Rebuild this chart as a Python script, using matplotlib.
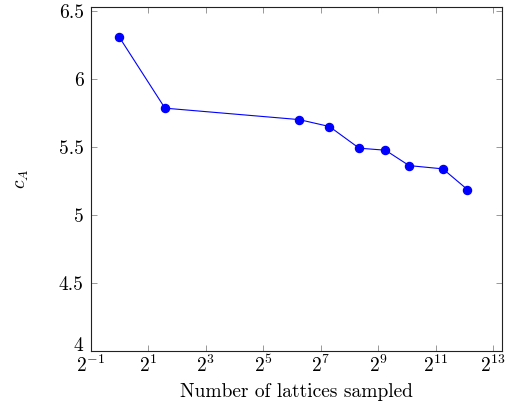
import math
import matplotlib
matplotlib.use("Agg")
import matplotlib.pyplot as plt
import matplotlib.transforms as mtransforms
from matplotlib.ticker import FixedLocator, FuncFormatter, NullLocator

plt.rcParams['font.family'] = 'serif'
plt.rcParams['font.serif'] = ['cmr10']
plt.rcParams['mathtext.fontset'] = 'cm'
plt.rcParams['axes.formatter.use_mathtext'] = True
plt.rcParams['axes.unicode_minus'] = False

lattices = [1, 3, 76, 158, 323, 609, 1078, 2430, 4390]
c_a = [6.305, 5.784, 5.700, 5.649, 5.490, 5.475, 5.362, 5.338, 5.186]
x_exponents = [-1, 1, 3, 5, 7, 9, 11, 13]
y_ticks = [4, 4.5, 5, 5.5, 6, 6.5]
y_tick_labels = ['4', '4.5', '5', '5.5', '6', '6.5']

fig = plt.figure(figsize=(5.06, 4.12), dpi=100)
ax = fig.add_axes([0.179, 0.148, 0.813, 0.836])

ax.plot(lattices, c_a, color='blue', linewidth=0.8, marker='o',
        markersize=5.8, markerfacecolor='blue', markeredgecolor='blue')

ax.set_xscale('log', base=2)
ax.set_xlim(2 ** -1, 2 ** 13.3)
ax.set_ylim(4, 6.53)

ax.xaxis.set_major_locator(FixedLocator([2.0 ** e for e in x_exponents]))
ax.xaxis.set_minor_locator(NullLocator())
ax.xaxis.set_major_formatter(FuncFormatter(lambda v, p: r'$2^{%d}$' % round(math.log2(v))))
ax.set_yticks(y_ticks)
ax.set_yticklabels(y_tick_labels)

ax.tick_params(direction='in', length=4, width=0.6, color='#888888',
               labelsize=14, top=True, right=True)
ax.tick_params(axis='x', pad=3)
ax.tick_params(axis='y', pad=5)
for s in ax.spines.values():
    s.set_linewidth(0.8)
    s.set_color('#222222')

# raise the lowest y label slightly, as in the reference
first = ax.get_yticklabels()[0]
first.set_transform(first.get_transform() +
                    mtransforms.ScaledTranslation(0, 5 / 72, fig.dpi_scale_trans))

ax.set_xlabel('Number of lattices sampled', fontsize=14, labelpad=5)
ax.set_ylabel(r'$c_A$', fontsize=14, labelpad=20)

fig.savefig('out.png', dpi=100)
